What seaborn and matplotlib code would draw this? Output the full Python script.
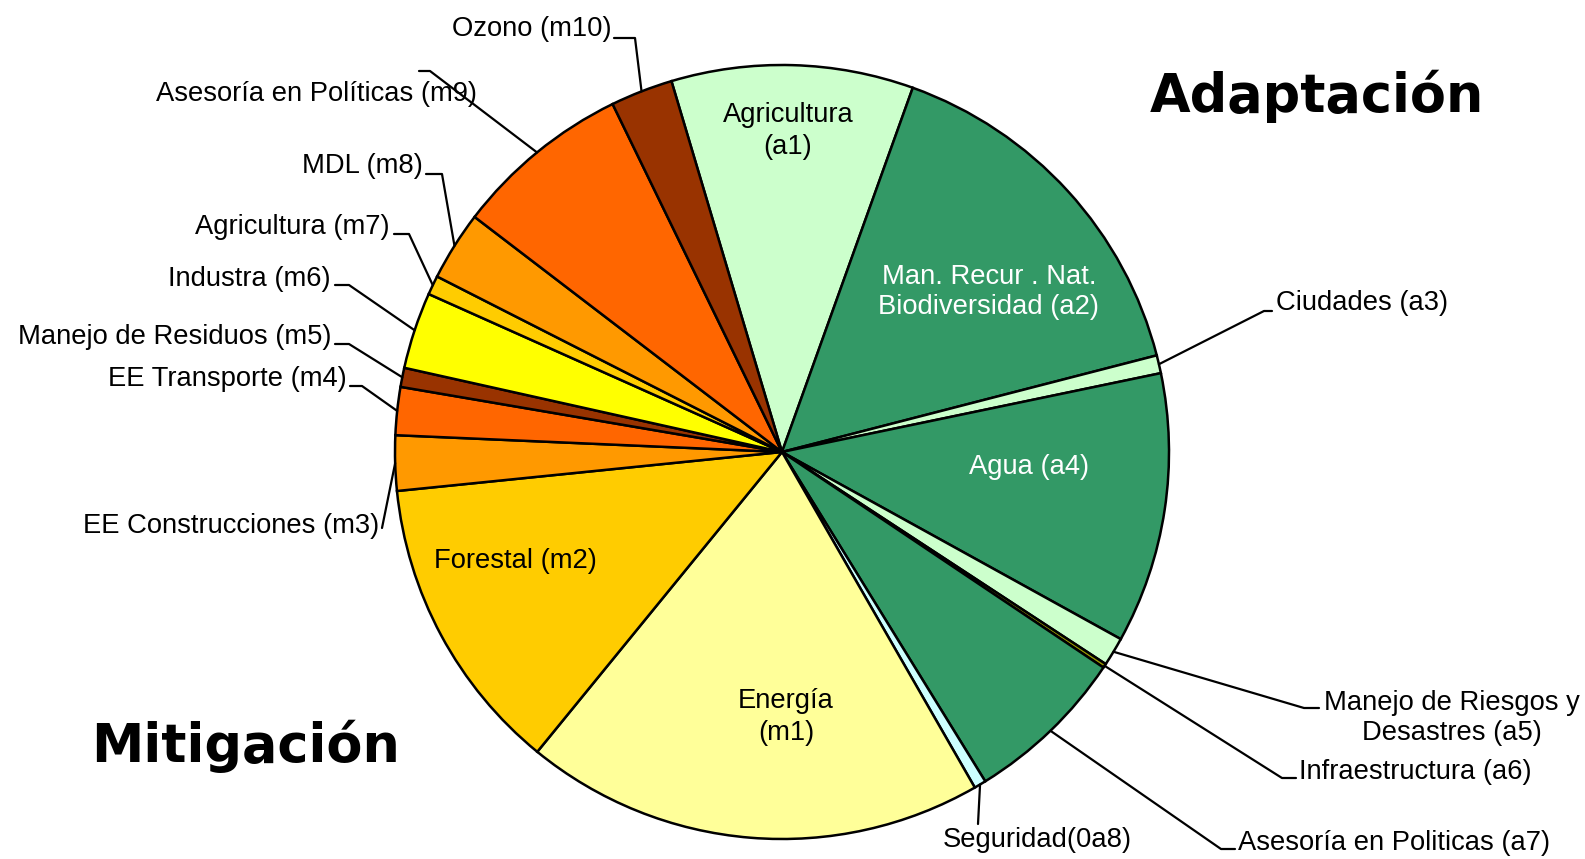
import numpy as np
import matplotlib
matplotlib.use("Agg")
import matplotlib.pyplot as plt
import seaborn as sns

sns.set_style("white")
plt.rcParams['font.family'] = ['Liberation Sans', 'DejaVu Sans']
plt.rcParams['text.color'] = 'black'

# Datos (porcentaje de proyectos por sector)
codigos = ['a1', 'a2', 'a3', 'a4', 'a5', 'a6', 'a7', 'a8',
           'm1', 'm2', 'm3', 'm4', 'm5', 'm6', 'm7', 'm8', 'm9', 'm10']
etiquetas = ['Agricultura\n(a1)', 'Man. Recur . Nat.\nBiodiversidad (a2)', 'Ciudades (a3)',
             'Agua (a4)', 'Manejo de Riesgos y\nDesastres (a5)', 'Infraestructura (a6)',
             'Asesoría en Politicas (a7)', 'Seguridad(0a8)',
             'Energía\n(m1)', 'Forestal (m2)', 'EE Construcciones (m3)', 'EE Transporte (m4)',
             'Manejo de Residuos (m5)', 'Industra (m6)', 'Agricultura (m7)', 'MDL (m8)',
             'Asesoría en Políticas (m9)', 'Ozono (m10)']
valores = [10.1, 15.5, 0.75, 11.3, 1.2, 0.17, 6.8, 0.5,
           19.2, 12.5, 2.3, 2.0, 0.8, 3.2, 0.8, 2.9, 7.4, 2.6]
colores = ['#CCFFCC', '#339966', '#CCFFCC', '#339966', '#CCFFCC', '#999900', '#339966', '#CCFFFF',
           '#FFFF99', '#FFCC00', '#FF9900', '#FF6600', '#993300', '#FFFF00', '#FFCC00', '#FF9900',
           '#FF6600', '#993300']

W, H = 1585, 859
CX, CY, R = 782, 452, 387


def px(x, y):
    # pixeles de la imagen -> coordenadas del pie (radio 1)
    return (x - CX) / R, (CY - y) / R


fig = plt.figure(figsize=(W / 100, H / 100), dpi=100)
ax = fig.add_axes([(CX - R) / W, (H - CY - R) / H, 2 * R / W, 2 * R / H])
wedges, _ = ax.pie(valores, colors=colores, startangle=106.6, counterclock=False, radius=1,
                   wedgeprops=dict(edgecolor='black', linewidth=1.8))
ax.set_xlim(-1, 1)
ax.set_ylim(-1, 1)
ax.axis('off')

fs = 19.7

# Etiquetas dentro del pie
internas = {'a1': ((788, 131), 'black'), 'a2': ((989, 292), 'white'),
            'a4': ((1029, 467), 'white'), 'm1': ((786, 717), 'black'),
            'm2': ((515, 561), 'black')}
for cod, ((x, y), col) in internas.items():
    i = codigos.index(cod)
    ax.text(*px(x, y), etiquetas[i], ha='center', va='center', color=col,
            fontsize=fs, linespacing=1.25)

# Etiquetas exteriores: (texto x, texto y, alineacion, inicio linea, codo)
externas = {
    'm10': ((612, 29), 'right', (614, 38), (635, 38)),
    'm9': ((477, 94), 'right', (419, 71), (430, 71)),
    'm8': ((423, 166), 'right', (426, 174), (442, 174)),
    'm7': ((390, 227), 'right', (394, 234), (409, 234)),
    'm6': ((331, 279), 'right', (335, 285), (349, 285)),
    'm5': ((332, 337), 'right', (335, 344), (349, 344)),
    'm4': ((347, 379), 'right', (350, 386), (362, 386)),
    'm3': ((379, 526), 'right', (382, 528), (382, 528)),
    'a3': ((1276, 303), 'left', (1272, 311), (1264, 311)),
    'a5': ((1452, 718), 'center', (1319, 708), (1304, 708)),
    'a6': ((1299, 772), 'left', (1296, 778), (1282, 778)),
    'a7': ((1238, 843), 'left', (1235, 849), (1221, 849)),
    'a8': ((1037, 840), 'center', (978, 824), (978, 824)),
}
for cod, ((x, y), ha, ini, codo) in externas.items():
    i = codigos.index(cod)
    w = wedges[i]
    ang = np.deg2rad((w.theta1 + w.theta2) / 2)
    xs = [px(*ini)[0], px(*codo)[0], np.cos(ang)]
    ys = [px(*ini)[1], px(*codo)[1], np.sin(ang)]
    ax.plot(xs, ys, color='black', lw=1.6, clip_on=False)
    ax.text(*px(x, y), etiquetas[i], ha=ha, va='center', fontsize=fs,
            multialignment='center', linespacing=1.25)

fig.text(1150 / W, 1 - 96 / H, 'Adaptación', ha='left', va='center', fontsize=37.8,
         fontweight='bold', family='DejaVu Sans')
fig.text(91 / W, 1 - 746 / H, 'Mitigación', ha='left', va='center', fontsize=37.8,
         fontweight='bold', family='DejaVu Sans')

fig.savefig('out.png', dpi=100)
